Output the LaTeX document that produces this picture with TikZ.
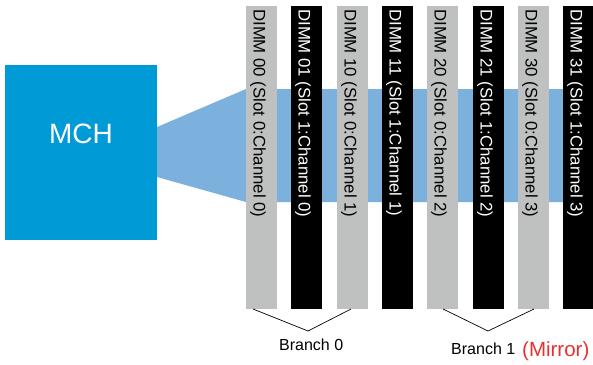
\documentclass[tikz,border=0pt]{standalone}
\usepackage{fontspec}
\setmainfont{Liberation Sans}
\definecolor{mchblue}{RGB}{0,155,214}
\definecolor{bandblue}{RGB}{123,177,220}
\definecolor{dimmgray}{RGB}{191,193,192}
\definecolor{mirrorred}{RGB}{232,48,47}
\begin{document}
\begin{tikzpicture}[x=1pt,y=-1pt,
  barbox/.style={draw=none, inner sep=0pt, minimum width=31pt, minimum height=303pt, anchor=north west},
  graybar/.style={barbox, fill=dimmgray},
  blackbar/.style={barbox, fill=black},
  dimmtext/.style={rotate=-90, anchor=base west, inner sep=0pt, font=\fontsize{16.8}{18}\selectfont},
  bracket/.style={draw=black, line width=0.7pt},
  branchlabel/.style={anchor=base west, inner sep=0pt, font=\fontsize{16}{18}\selectfont}
]
\useasboundingbox (0,0) rectangle (593,364);
\fill[white] (0,0) rectangle (593,364);
% MCH
\node[fill=mchblue, inner sep=0pt, minimum width=152pt, minimum height=175pt, anchor=north west] (mch) at (5,65) {};
\node[text=white, inner sep=0pt, font=\fontsize{28}{30}\selectfont] (mchlabel) at (81,134) {MCH};
% band
\fill[bandblue] (157,127) -- (246,89) -- (593,89) -- (593,202) -- (246,202) -- (157,177) -- cycle;
% bars
\node[graybar]  (d00) at (246,6) {};
\node[blackbar] (d01) at (291,6) {};
\node[graybar]  (d10) at (337,6) {};
\node[blackbar] (d11) at (382,6) {};
\node[graybar]  (d20) at (427,6) {};
\node[blackbar] (d21) at (473,6) {};
\node[graybar]  (d30) at (518,6) {};
\node[blackbar] (d31) at (563,6) {};
% bar texts
\node[dimmtext, text=black] (t00) at (253.5,9) {DIMM 00 (Slot 0:Channel 0)};
\node[dimmtext, text=white] (t01) at (298.5,9) {DIMM 01 (Slot 1:Channel 0)};
\node[dimmtext, text=black] (t10) at (344.5,9) {DIMM 10 (Slot 0:Channel 1)};
\node[dimmtext, text=white] (t11) at (389.5,9) {DIMM 11 (Slot 1:Channel 1)};
\node[dimmtext, text=black] (t20) at (434.5,9) {DIMM 20 (Slot 0:Channel 2)};
\node[dimmtext, text=white] (t21) at (480.5,9) {DIMM 21 (Slot 1:Channel 2)};
\node[dimmtext, text=black] (t30) at (525.5,9) {DIMM 30 (Slot 0:Channel 3)};
\node[dimmtext, text=white] (t31) at (570.5,9) {DIMM 31 (Slot 1:Channel 3)};
% brackets
\coordinate (b0a) at (253,309);
\coordinate (b0m) at (308,331);
\coordinate (b0b) at (351,309);
\coordinate (b1a) at (443,309);
\coordinate (b1m) at (488,331);
\coordinate (b1b) at (534,309);
\draw[bracket] (b0a) -- (b0m) -- (b0b);
\draw[bracket] (b1a) -- (b1m) -- (b1b);
% labels
\node[branchlabel] (br0) at (279,350) {Branch 0};
\node[branchlabel] (br1) at (451,354) {Branch 1};
\node[branchlabel, text=mirrorred, font=\fontsize{20.5}{22}\selectfont] (mirror) at (522,356.5) {(Mirror)};
\end{tikzpicture}
\end{document}
